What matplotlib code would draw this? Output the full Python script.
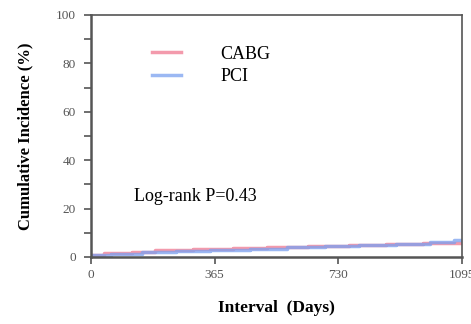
import numpy as np
import matplotlib.pyplot as plt
from matplotlib.ticker import MultipleLocator

# Step data (days, cumulative incidence %)
cabg_t = [0, 40, 120, 190, 300, 420, 520, 640, 760, 870, 980, 1095]
cabg_y = [1.0, 1.6, 2.2, 2.7, 3.1, 3.6, 4.0, 4.4, 4.8, 5.2, 5.6, 5.8]
pci_t = [0, 60, 150, 250, 350, 470, 580, 690, 790, 900, 1000, 1070, 1095]
pci_y = [0.8, 1.4, 2.0, 2.6, 3.0, 3.4, 3.9, 4.4, 5.0, 5.5, 6.0, 6.8, 6.8]

xticks = [0, 365, 730, 1095]
yticks = [0, 20, 40, 60, 80, 100]

plt.rcParams['font.family'] = 'Liberation Serif'

fig = plt.figure(figsize=(4.71, 3.24), dpi=100)
ax = fig.add_axes([0.193, 0.207, 0.788, 0.747])

ax.step(cabg_t, cabg_y, where='post', color='#f07890', linewidth=2.5, alpha=0.75, label='CABG')
ax.step(pci_t, pci_y, where='post', color='#7aa0f0', linewidth=2.5, alpha=0.75, label='PCI')

ax.set_xlim(0, 1095)
ax.set_ylim(0, 100)
ax.set_xticks(xticks)
ax.set_yticks(yticks)
ax.yaxis.set_minor_locator(MultipleLocator(10))
ax.tick_params(axis='both', labelsize=9.5, labelcolor='#555555', color='#555555',
               direction='out', length=5, width=1.2)
ax.tick_params(axis='y', pad=6)
ax.tick_params(axis='y', which='minor', direction='out', length=5, width=1.2, color='#555555')
for side in ['left', 'bottom']:
    ax.spines[side].set_linewidth(1.8)
    ax.spines[side].set_color('#555555')
for side in ['top', 'right']:
    ax.spines[side].set_linewidth(1.2)
    ax.spines[side].set_color('#555555')

ax.set_ylabel('Cumulative Incidence (%)', fontsize=12, fontweight='bold', labelpad=16)
ax.set_xlabel('Interval  (Days)', fontsize=12.5, fontweight='bold', labelpad=14)

ax.legend(loc='upper left', bbox_to_anchor=(0.12, 0.94), frameon=False, fontsize=13,
          handlelength=1.6, handletextpad=2.2, labelspacing=0.3)
ax.text(0.115, 0.23, 'Log-rank P=0.43', transform=ax.transAxes, fontsize=13)

fig.savefig('out.png', dpi=100)
